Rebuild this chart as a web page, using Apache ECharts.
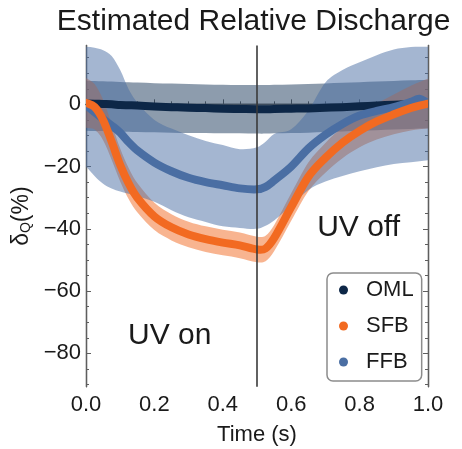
<!DOCTYPE html>
<html>
<head>
<meta charset="utf-8">
<script src="https://cdn.jsdelivr.net/npm/echarts@6/dist/echarts.min.js"></script>
<style>
  html, body { margin: 0; padding: 0; background: #fff; }
  #chart { width: 462px; height: 449px; }
</style>
</head>
<body>
<div id="chart"></div>
<script>
// Sample times (s)
const time = [0, 0.025, 0.05, 0.075, 0.1, 0.125, 0.15, 0.2, 0.25, 0.3, 0.35, 0.4, 0.45,
              0.5, 0.525, 0.55, 0.6, 0.65, 0.7, 0.75, 0.8, 0.85, 0.9, 0.95, 0.975, 1.0];

// OML: mean and uncertainty envelope (%)
const omlMean = [0.3, 0.2, 0.1, 0, -0.2, -0.3, -0.4, -0.7, -0.9, -1.1, -1.2, -1.4, -1.5,
                 -1.6, -1.6, -1.5, -1.4, -1.3, -1.1, -0.9, -0.6, -0.4, -0.1, 0.1, 0.2, 0.3];
const omlLow  = [-8.5, -8.6, -8.6, -8.7, -8.8, -8.8, -8.9, -9.0, -9.1, -9.2, -9.2, -9.3, -9.3,
                 -9.4, -9.4, -9.3, -9.2, -9.1, -8.9, -8.7, -8.5, -8.3, -8.1, -7.9, -7.8, -7.7];
const omlHigh = [7.6, 7.5, 7.4, 7.3, 7.2, 7.1, 7.0, 6.8, 6.7, 6.5, 6.4, 6.3, 6.2,
                 6.2, 6.2, 6.3, 6.4, 6.5, 6.7, 6.9, 7.1, 7.3, 7.5, 7.7, 7.8, 7.9];

// SFB: mean and uncertainty envelope (%)
const sfbMean = [0.5, -0.8, -5, -12, -19.5, -25.5, -30, -36, -39.5, -41.8, -43.3, -44.4, -45.3,
                 -46.6, -46.3, -43, -33, -23.3, -17.2, -12.3, -8.5, -5.5, -3.2, -1.2, -0.4, 0.2];
const sfbLow  = [-7.5, -8.1, -11.5, -17.8, -24.8, -30.5, -34.7, -40.4, -43.7, -45.9, -47.4, -48.5, -49.4,
                 -50.7, -50.4, -47.2, -37.4, -27.9, -22.0, -17.3, -13.8, -11.3, -9.6, -8.4, -8.0, -7.8];
const sfbHigh = [8.5, 6.5, 1.5, -6.2, -14.2, -20.5, -25.3, -31.6, -35.3, -37.7, -39.2, -40.3, -41.2,
                 -42.5, -42.2, -38.8, -28.6, -18.7, -12.4, -7.3, -3.2, 0.3, 3.2, 6.0, 7.2, 8.2];

// FFB: mean and uncertainty envelope (%)
const ffbMean = [-0.2, -2.5, -4.7, -6.8, -9.1, -12.2, -14.8, -18.7, -21.5, -23.6, -25, -26, -27,
                 -27.3, -26.5, -24.5, -20, -14.2, -9.8, -6.3, -3.6, -2.1, -0.9, 0.8, 1.8, 0.4];
const ffbLow  = [-20, -23, -25.5, -27, -28, -28.7, -29.5, -31.3, -34, -36.3, -37.8, -39.2, -39.7,
                 -40, -39, -37.3, -32.5, -27.5, -24.8, -23, -21.5, -20.2, -19.2, -18.6, -18.3, -18];
const ffbHigh = [18.5, 18.2, 17.4, 15.5, 11, 4.8, 0.6, -5, -7.8, -9.9, -11.8, -13.1, -14.4,
                 -13.8, -12, -9.5, -8, -2, 7, 11, 13.5, 15.8, 17.6, 18.4, 18.5, 18.5];

// Axis ticks
const yMajor = [-80, -60, -40, -20, 0];
const yMinor = [-90, -85, -75, -70, -65, -55, -50, -45, -35, -30, -25, -15, -10, -5, 5, 10, 15];

const FONT = '"Liberation Sans", Arial, sans-serif';
const FRAME = '#5e5e5e';
const TEXT = '#1a1a1a';
const Y_MIN = -90.7, Y_MAX = 18.9;
const COLORS = { OML: '#0d2747', SFB: '#f26a21', FFB: '#4a6ea3' };

// Cubic Hermite path through pixel points; tangents from neighbouring points
function hermite(points, moveFirst) {
  const n = points.length;
  const slope = i => {
    const a = points[Math.max(i - 1, 0)], b = points[Math.min(i + 1, n - 1)];
    return (b[1] - a[1]) / (b[0] - a[0]);
  };
  let d = (moveFirst ? 'M' : 'L') + points[0][0] + ',' + points[0][1];
  for (let i = 0; i < n - 1; i++) {
    const p = points[i], q = points[i + 1];
    const h = (q[0] - p[0]) / 3;
    const m0 = slope(i), m1 = slope(i + 1);
    d += 'C' + (p[0] + h) + ',' + (p[1] + m0 * h) + ' ' +
         (q[0] - h) + ',' + (q[1] - m1 * h) + ' ' + q[0] + ',' + q[1];
  }
  return d;
}

// Filled envelope between lower and upper bounds
function envelope(key, low, high, color, opacity) {
  return {
    name: key + ' range', type: 'custom', coordinateSystem: 'cartesian2d',
    silent: true, clip: true, data: [[0, 0]],
    renderItem: function (params, api) {
      const up = time.map((t, i) => api.coord([t, high[i]]));
      const lo = time.map((t, i) => api.coord([t, low[i]])).reverse();
      return {
        type: 'path',
        shape: { pathData: hermite(up, true) + hermite(lo, false) + 'Z' },
        style: { fill: color, opacity: opacity, stroke: null }
      };
    }
  };
}

// Mean curve
function meanLine(key, values) {
  return {
    name: key, type: 'custom', coordinateSystem: 'cartesian2d',
    silent: true, clip: true, data: [[0, 0]],
    color: COLORS[key], itemStyle: { color: COLORS[key] },
    renderItem: function (params, api) {
      const pts = time.map((t, i) => api.coord([t, values[i]]));
      return {
        type: 'path',
        shape: { pathData: hermite(pts, true) },
        style: { fill: null, stroke: COLORS[key], lineWidth: 8, lineCap: 'round', lineJoin: 'round' }
      };
    }
  };
}

const tickLine = { color: FRAME, width: 1 };

function yAxisDef(position, values, len, withLabels) {
  return {
    type: 'value', min: Y_MIN, max: Y_MAX, position: position,
    axisLine: { show: true, lineStyle: { color: FRAME, width: 1.3 } },
    splitLine: { show: false },
    axisTick: { show: true, inside: true, length: len, customValues: values, lineStyle: tickLine },
    axisLabel: withLabels ? {
      show: true, customValues: yMajor, margin: 5, fontSize: 22, fontFamily: FONT, color: TEXT,
      formatter: v => String(v).replace('-', '\u2212')
    } : { show: false }
  };
}

function xAxisDef(position, withLabels) {
  return {
    type: 'value', min: 0, max: 1, interval: 0.2, position: position,
    axisLine: { show: true, lineStyle: { color: FRAME, width: 1.3 } },
    splitLine: { show: false },
    axisTick: { show: true, inside: true, length: 5, lineStyle: tickLine },
    minorTick: { show: true, splitNumber: 4, length: 3, lineStyle: tickLine },
    axisLabel: withLabels ? {
      show: true, margin: 7, fontSize: 22, fontFamily: FONT, color: TEXT,
      formatter: v => v.toFixed(1)
    } : { show: false },
    name: withLabels ? 'Time (s)' : '',
    nameLocation: 'middle', nameGap: 37,
    nameTextStyle: { fontSize: 22, fontFamily: FONT, color: TEXT }
  };
}

const yMain = yAxisDef('left', yMajor, 5, true);
yMain.name = '{a|\u03b4}{b|Q}{a|(%)}';
yMain.nameLocation = 'middle';
yMain.nameGap = 50;
yMain.nameTextStyle = {
  fontFamily: FONT, color: TEXT,
  rich: {
    a: { fontSize: 23, fontFamily: FONT, color: TEXT, lineHeight: 26, verticalAlign: 'bottom' },
    b: { fontSize: 14, fontFamily: FONT, color: TEXT, lineHeight: 12, verticalAlign: 'bottom' }
  }
};

const chart = echarts.init(document.getElementById('chart'), null, { renderer: 'canvas' });

chart.setOption({
  animation: false,
  backgroundColor: '#fff',
  grid: { left: 86, right: 34, top: 45.5, bottom: 62.3, containLabel: false, outerBoundsMode: 'none' },
  xAxis: [xAxisDef('bottom', true), xAxisDef('top', false)],
  yAxis: [
    yMain,
    yAxisDef('left', yMinor, 3, false),
    yAxisDef('right', yMajor, 5, false),
    yAxisDef('right', yMinor, 3, false)
  ],
  legend: {
    data: ['OML', 'SFB', 'FFB'],
    orient: 'vertical', left: 327, top: 273,
    icon: 'circle', itemWidth: 9, itemHeight: 9, itemGap: 12,
    padding: [5, 8, 7, 12],
    backgroundColor: '#fff', borderColor: '#8c8c8c', borderWidth: 1.5, borderRadius: 6,
    selectedMode: false,
    textStyle: { fontSize: 22, fontFamily: FONT, color: TEXT, lineHeight: 24, padding: [0, 0, 0, 13] }
  },
  series: [
    envelope('OML', omlLow, omlHigh, '#1b3a5c', 0.5),
    envelope('SFB', sfbLow, sfbHigh, COLORS.SFB, 0.5),
    envelope('FFB', ffbLow, ffbHigh, COLORS.FFB, 0.5),
    meanLine('OML', omlMean),
    meanLine('FFB', ffbMean),
    meanLine('SFB', sfbMean),
    {
      // switch-off instant
      name: 'UV switch', type: 'line', data: [], silent: true,
      markLine: {
        silent: true, symbol: ['none', 'none'], label: { show: false },
        lineStyle: { color: '#3a3a3a', width: 1.6, type: 'solid' },
        data: [{ xAxis: 0.5 }]
      }
    }
  ]
});

// Title and phase annotations
const onPos = chart.convertToPixel({ xAxisIndex: 0, yAxisIndex: 0 }, [0.245, -74.4]);
const offPos = chart.convertToPixel({ xAxisIndex: 0, yAxisIndex: 0 }, [0.797, -39.5]);
const titleX = chart.convertToPixel({ xAxisIndex: 0 }, 0.49);

chart.setOption({
  graphic: [
    { type: 'text', x: titleX, y: 21.5, z: 10,
      style: { text: 'Estimated Relative Discharge', font: '30px ' + FONT, fill: TEXT,
               align: 'center', verticalAlign: 'middle' } },
    { type: 'text', x: onPos[0], y: onPos[1], z: 10,
      style: { text: 'UV on', font: '30px ' + FONT, fill: TEXT, align: 'center', verticalAlign: 'middle' } },
    { type: 'text', x: offPos[0], y: offPos[1], z: 10,
      style: { text: 'UV off', font: '30px ' + FONT, fill: TEXT, align: 'center', verticalAlign: 'middle' } }
  ]
});
</script>
</body>
</html>
